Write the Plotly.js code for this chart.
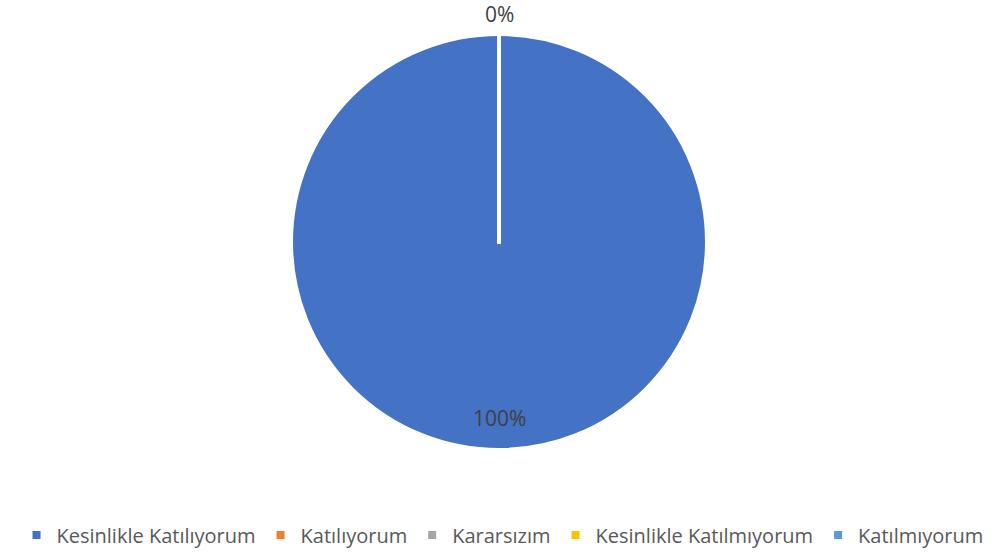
<!DOCTYPE html>
<html>
<head>
<meta charset="utf-8">
<script src="https://cdn.plot.ly/plotly-3.0.1.min.js"></script>
<style>html,body{margin:0;padding:0;background:#fff;}#chart{width:1005px;height:555px;}</style>
</head>
<body>
<div id="chart"></div>
<script>
const categories = ["Kesinlikle Katılıyorum", "Katılıyorum", "Kararsızım", "Kesinlikle Katılmıyorum", "Katılmıyorum"];
const values = [100, 0, 0, 0, 0];
const colors = ["#4472C4", "#ED7D31", "#A5A5A5", "#FFC000", "#5B9BD5"];

const total = values.reduce((a, b) => a + b, 0);
const pct = values.map(v => Math.round(v / total * 100) + "%");

const trace = {
  type: "pie",
  labels: categories,
  values: values,
  sort: false,
  direction: "clockwise",
  rotation: 0,
  marker: {colors: colors, line: {color: "#ffffff", width: 4}},
  textinfo: "none",
  hoverinfo: "label+percent",
  showlegend: true
};

const labelFont = {family: "Open Sans, sans-serif", size: 21, color: "#404040"};

const layout = {
  width: 1005,
  height: 555,
  margin: {l: 0, r: 7, t: 34, b: 105},
  paper_bgcolor: "#ffffff",
  plot_bgcolor: "#ffffff",
  showlegend: true,
  legend: {
    orientation: "h",
    xref: "container", yref: "container",
    x: 0.5, xanchor: "center",
    y: 1 - 535/555, yanchor: "middle",
    font: {family: "Open Sans, sans-serif", size: 20, color: "#595959"},
    itemwidth: 30,
    traceorder: "normal"
  },
  annotations: [
    {text: pct[0], xref: "paper", yref: "paper", x: 0.5, y: 0.077, xanchor: "center", yanchor: "middle", showarrow: false, font: labelFont},
    {text: pct[1], xref: "paper", yref: "paper", x: 0.5, y: 1.048, xanchor: "center", yanchor: "middle", showarrow: false, font: labelFont}
  ]
};

Plotly.newPlot("chart", [trace], layout, {displayModeBar: false});
</script>
</body>
</html>
